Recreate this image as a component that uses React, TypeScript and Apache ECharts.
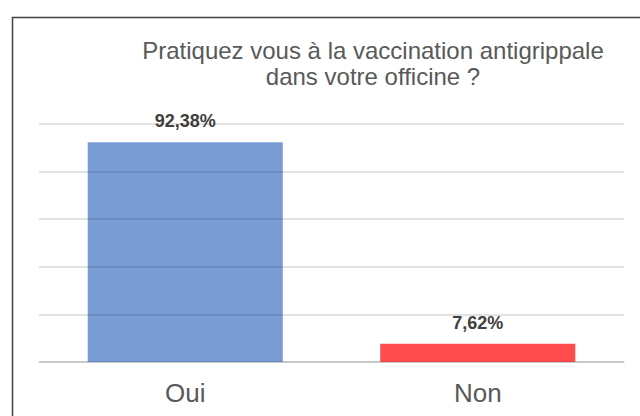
import React, { useEffect, useRef } from "react";
import * as echarts from "echarts";

const categories = ["Oui", "Non"];
const values = [92.38, 7.62];
const barColors = ["#7A9CD5", "#FF4D4D"];
const titleText = "Pratiquez vous à la vaccination antigrippale\ndans votre officine ?";

const FONT = "'Liberation Sans', Arial, sans-serif";

export default function App() {
  const ref = useRef<HTMLDivElement>(null);
  useEffect(() => {
    if (!ref.current) return;
    const chart = echarts.init(ref.current, null, { renderer: "svg" });
    chart.setOption({
      animation: false,
      backgroundColor: "#ffffff",
      title: {
        text: titleText,
        left: 368,
        top: 32,
        textAlign: "center",
        textStyle: {
          fontFamily: FONT,
          fontSize: 24,
          fontWeight: "normal",
          color: "#595959",
          lineHeight: 26,
        },
      },
      graphic: [
        {
          type: "rect",
          left: 10,
          top: 15,
          shape: { x: 0, y: 0, width: 700, height: 500 },
          style: { fill: "none", stroke: "#404040", lineWidth: 1.5 },
          silent: true,
        },
      ],
      grid: { left: 39, right: 16, top: 124, bottom: 54 },
      xAxis: {
        type: "category",
        data: categories,
        axisLine: { lineStyle: { color: "#d9d9d9", width: 1.5 } },
        axisTick: { show: false },
        axisLabel: {
          fontFamily: FONT,
          fontSize: 26,
          color: "#595959",
          margin: 18,
        },
      },
      yAxis: {
        type: "value",
        min: 0,
        max: 100,
        interval: 20,
        z: 3,
        axisLabel: { show: false },
        axisLine: { show: false },
        axisTick: { show: false },
        splitLine: { lineStyle: { color: "rgba(0,0,0,0.15)", width: 1.5 } },
      },
      series: [
        {
          type: "bar",
          data: values.map((v, i) => ({ value: v, itemStyle: { color: barColors[i] } })),
          barWidth: "66.7%",
          label: {
            show: true,
            position: "top",
            distance: 12,
            fontFamily: FONT,
            fontSize: 18,
            fontWeight: "bold",
            color: "#404040",
            formatter: (p: any) => String(p.value).replace(".", ",") + "%",
          },
        },
      ],
    });
    return () => chart.dispose();
  }, []);
  return (
    <div
      ref={ref}
      style={{ position: "fixed", left: 0, top: 0, width: 640, height: 416 }}
    />
  );
}
